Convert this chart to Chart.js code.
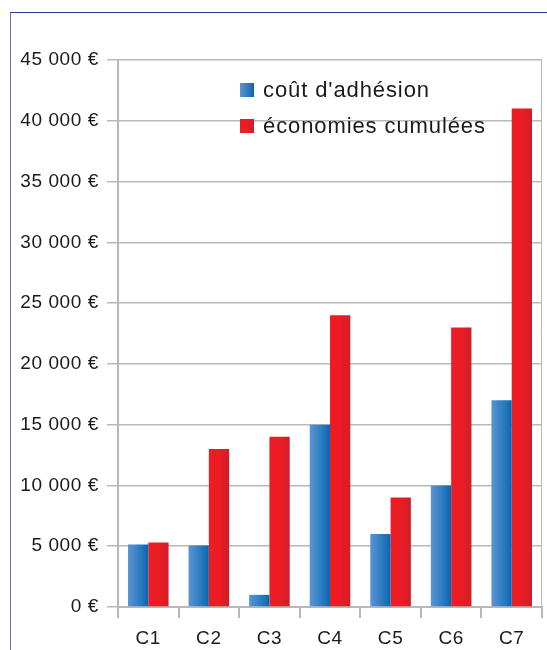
<!DOCTYPE html>
<html>
<head>
<meta charset="utf-8">
<script src="https://cdn.jsdelivr.net/npm/chart.js@4/dist/chart.umd.min.js"></script>
<style>
  html, body { margin: 0; padding: 0; background: #fff; }
  #wrap { position: relative; width: 547px; height: 650px; overflow: hidden; }
  #frame { position: absolute; left: 10px; top: 12px; width: 600px; height: 700px;
           border-top: 1px solid #2b3990; border-left: 1px solid #6a6fb0; }
  #chart { position: absolute; left: 0; top: 0; }
</style>
</head>
<body>
<div id="wrap">
  <div id="frame"></div>
  <canvas id="chart" width="547" height="650"></canvas>
</div>
<script>
// data
const categories = ['C1', 'C2', 'C3', 'C4', 'C5', 'C6', 'C7'];
const coutAdhesion = [5150, 5050, 1000, 15000, 6000, 10000, 17000];
const economiesCumulees = [5300, 13000, 14000, 24000, 9000, 23000, 41000];
const seriesNames = ["coût d'adhésion", 'économies cumulées'];
const solidColors = ['#2a7bc0', '#ea1c24'];

const CAT_PCT = 0.67;
const textColor = '#1a1a1a';
const gridColor = '#b8b8b8';

// horizontal gradient per bar, light on the left, darker on the right
function barGradient(chart, left, w, idx) {
    const g = chart.ctx.createLinearGradient(left, 0, left + w, 0);
    if (idx === 0) {
        g.addColorStop(0, '#5a95d2');
        g.addColorStop(0.6, '#2a7bc0');
        g.addColorStop(1, '#0a66ae');
    } else {
        g.addColorStop(0, '#ee1c25');
        g.addColorStop(0.55, '#ea1c24');
        g.addColorStop(1, '#cf1f2a');
    }
    return g;
}

function barFill(context) {
    const chart = context.chart;
    const xs = chart.scales.x;
    const fallback = solidColors[context.datasetIndex] || '#ccc';
    if (!xs || context.dataIndex === undefined) return fallback;
    const w = (xs.width / categories.length) * CAT_PCT / 2;
    const c = xs.getPixelForValue(context.dataIndex);
    if (!isFinite(w) || !isFinite(c) || w <= 0) return fallback;
    const left = context.datasetIndex === 0 ? c - w : c;
    return barGradient(chart, left, w, context.datasetIndex);
}

function euro(v) {
    return String(v).replace(/\B(?=(\d{3})+(?!\d))/g, ' ') + ' €';
}

// legend drawn inside the plot, plus the right border of the plot
const decorations = {
    id: 'decorations',
    beforeDraw(chart) {
        chart.ctx.letterSpacing = '0.6px';
    },
    afterDraw(chart) {
        const ctx = chart.ctx;
        const a = chart.chartArea;
        ctx.save();
        ctx.strokeStyle = gridColor;
        ctx.lineWidth = 1;
        ctx.beginPath();
        ctx.moveTo(a.right - 0.5, a.top);
        ctx.lineTo(a.right - 0.5, a.bottom);
        ctx.stroke();

        ctx.font = '22px "Liberation Sans", Arial, sans-serif';
        ctx.letterSpacing = '0.9px';
        ctx.textBaseline = 'alphabetic';
        ctx.textAlign = 'left';
        const rows = [{ y: 83, base: 97 }, { y: 119, base: 133 }];
        rows.forEach((r, i) => {
            ctx.fillStyle = barGradient(chart, 240, 14, i);
            ctx.fillRect(240, r.y, 14, 14);
            ctx.fillStyle = textColor;
            ctx.fillText(seriesNames[i], 263, r.base);
        });
        ctx.restore();
    }
};

new Chart(document.getElementById('chart'), {
    type: 'bar',
    data: {
        labels: categories,
        datasets: [
            { label: seriesNames[0], data: coutAdhesion, backgroundColor: barFill },
            { label: seriesNames[1], data: economiesCumulees, backgroundColor: barFill }
        ]
    },
    options: {
        responsive: false,
        animation: false,
        devicePixelRatio: 1,
        layout: { padding: { top: 60, right: 5, left: 0, bottom: 0 } },
        datasets: { bar: { categoryPercentage: CAT_PCT, barPercentage: 1, borderWidth: 0 } },
        plugins: { legend: { display: false }, tooltip: { enabled: false } },
        scales: {
            x: {
                grid: { drawOnChartArea: false, offset: true, tickLength: 11, color: gridColor, lineWidth: 2 },
                border: { color: gridColor, width: 2 },
                ticks: { color: textColor, padding: 9,
                         font: { family: '"Liberation Sans", Arial, sans-serif', size: 19 } },
                afterFit(s) { s.height = 43; }
            },
            y: {
                min: 0, max: 45000,
                grid: { tickLength: 11, color: gridColor, lineWidth: 1.5 },
                border: { color: gridColor, width: 2 },
                ticks: { stepSize: 5000, color: textColor, padding: 8, callback: euro,
                         font: { family: '"Liberation Sans", Arial, sans-serif', size: 19 } },
                afterFit(s) { s.width = 118; }
            }
        }
    },
    plugins: [decorations]
});
</script>
</body>
</html>
